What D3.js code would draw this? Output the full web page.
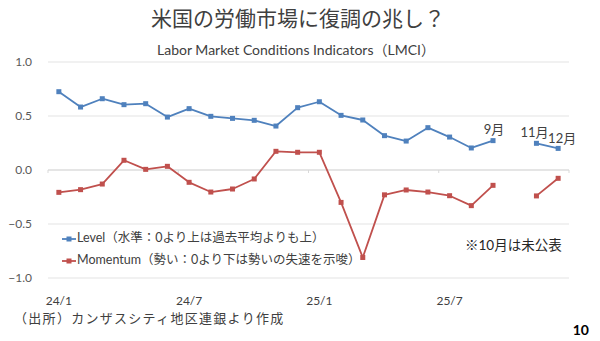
<!DOCTYPE html>
<html>
<head>
<meta charset="utf-8">
<script src="https://cdn.jsdelivr.net/npm/d3@7"></script>
<style>
  html, body { margin: 0; padding: 0; background: #ffffff; }
  svg { display: block; }
  text { font-family: "Lato", "Noto Sans CJK JP", sans-serif; }
</style>
</head>
<body>
<svg id="chart" width="600" height="341"></svg>
<script>
// Monthly categories, Jan 2024 – Dec 2025
const months = ["24/1","24/2","24/3","24/4","24/5","24/6","24/7","24/8","24/9","24/10","24/11","24/12",
                "25/1","25/2","25/3","25/4","25/5","25/6","25/7","25/8","25/9","25/10","25/11","25/12"];
const tickLabels = ["24/1","24/7","25/1","25/7"];
const yTicks = [1.0, 0.5, 0.0, -0.5, -1.0];

// LMCI series (October 2025 not published)
const level = [0.725,0.583,0.66,0.605,0.614,0.49,0.568,0.497,0.478,0.46,0.407,0.577,
               0.632,0.506,0.463,0.318,0.268,0.392,0.305,0.204,0.272,null,0.247,0.20];
const momentum = [-0.207,-0.182,-0.13,0.09,0.006,0.034,-0.114,-0.204,-0.176,-0.083,0.173,0.164,
                  0.164,-0.30,-0.81,-0.23,-0.185,-0.204,-0.238,-0.33,-0.142,null,-0.24,-0.077];

// Month labels attached to the latest Level points
const monthNotes = [
  { month: "25/9",  text: "9月",  dx: 1,  dy: -7 },
  { month: "25/11", text: "11月", dx: -2, dy: -6 },
  { month: "25/12", text: "12月", dx: 4,  dy: -5 }
];

const seriesList = [
  { name: "Level（水準：0より上は過去平均よりも上）", values: level, color: "#4f81bd" },
  { name: "Momentum（勢い：0より下は勢いの失速を示唆）", values: momentum, color: "#c0504d" }
];

const svg = d3.select("#chart");
const plot = { left: 48, right: 569, top: 62, bottom: 278 };

const x = d3.scaleBand().domain(months).range([plot.left, plot.right]).paddingInner(0).paddingOuter(0);
const xc = m => x(m) + x.bandwidth() / 2;
const y = d3.scaleLinear().domain([-1, 1]).range([plot.bottom, plot.top]);

// Titles
svg.append("text").attr("x", 298).attr("y", 26).attr("text-anchor", "middle")
  .attr("font-size", 21).attr("fill", "#404040").text("米国の労働市場に復調の兆し？");
svg.append("text").attr("x", 296).attr("y", 55).attr("text-anchor", "middle")
  .attr("font-size", 14).attr("fill", "#404040").text("Labor Market Conditions Indicators（LMCI）");

// Horizontal gridlines
svg.append("g").selectAll("line").data(yTicks).join("line")
  .attr("x1", plot.left).attr("x2", plot.right)
  .attr("y1", d => y(d)).attr("y2", d => y(d))
  .attr("stroke", "#e3e3e3").attr("stroke-width", 1);

// Y axis labels
const yAxis = d3.axisLeft(y).tickValues(yTicks).tickFormat(d3.format(".1f")).tickSize(0).tickPadding(16);
const yg = svg.append("g").attr("transform", `translate(${plot.left},0)`).call(yAxis);
yg.select(".domain").remove();
yg.selectAll("text").attr("font-size", 12).attr("fill", "#595959")
  .style("font-family", "Lato, 'Noto Sans CJK JP', sans-serif");

// Category axis on the zero line, ticks every six months at band edges
const zeroY = y(0);
svg.append("line").attr("x1", plot.left).attr("x2", plot.right)
  .attr("y1", zeroY).attr("y2", zeroY).attr("stroke", "#d9d9d9");
const edgeMonths = months.filter((m, i) => i % 6 === 0);
svg.append("g").selectAll("line").data(edgeMonths.concat(["end"])).join("line")
  .attr("x1", d => d === "end" ? plot.right : x(d))
  .attr("x2", d => d === "end" ? plot.right : x(d))
  .attr("y1", zeroY).attr("y2", zeroY + 3)
  .attr("stroke", "#d9d9d9");

// Category labels at the bottom
svg.append("g").selectAll("text").data(tickLabels).join("text")
  .attr("x", d => xc(d)).attr("y", 302).attr("text-anchor", "middle")
  .attr("dominant-baseline", "middle")
  .attr("font-size", 12).attr("fill", "#404040").text(d => d);

// Series lines and square markers
const line = d3.line()
  .defined(d => d.v !== null)
  .x(d => xc(d.m)).y(d => y(d.v));

seriesList.forEach(s => {
  const pts = months.map((m, i) => ({ m, v: s.values[i] }));
  svg.append("path").datum(pts).attr("d", line)
    .attr("fill", "none").attr("stroke", s.color).attr("stroke-width", 1.8)
    .attr("stroke-linejoin", "round");
  svg.append("g").selectAll("rect").data(pts.filter(d => d.v !== null)).join("rect")
    .attr("x", d => xc(d.m) - 2.5).attr("y", d => y(d.v) - 2.5)
    .attr("width", 5).attr("height", 5).attr("fill", s.color);
});

// Month notes above the latest Level points
svg.append("g").selectAll("text").data(monthNotes).join("text")
  .attr("x", d => xc(d.month) + d.dx)
  .attr("y", d => y(level[months.indexOf(d.month)]) + d.dy)
  .attr("text-anchor", "middle").attr("font-size", 13).attr("fill", "#404040")
  .text(d => d.text);

// Legend
const legend = svg.append("g").attr("transform", "translate(62,239)");
seriesList.forEach((s, i) => {
  const g = legend.append("g").attr("transform", `translate(0,${i * 22})`);
  g.append("line").attr("x1", 0).attr("x2", 14).attr("y1", 0).attr("y2", 0)
    .attr("stroke", s.color).attr("stroke-width", 1.8);
  g.append("rect").attr("x", 4.5).attr("y", -2.5).attr("width", 5).attr("height", 5).attr("fill", s.color);
  g.append("text").attr("x", 15).attr("y", 0).attr("dominant-baseline", "middle")
    .attr("font-size", 12.5).attr("fill", "#404040").text(s.name);
});

// Note about missing month
svg.append("text").attr("x", 465).attr("y", 247).attr("dominant-baseline", "middle")
  .attr("font-size", 13.5).attr("fill", "#262626").text("※10月は未公表");

// Source and page number
svg.append("text").attr("x", 14).attr("y", 320).attr("dominant-baseline", "middle")
  .attr("font-size", 13).attr("letter-spacing", 1.3).attr("fill", "#404040").text("（出所）カンザスシティ地区連銀より作成");
svg.append("text").attr("x", 589).attr("y", 331).attr("text-anchor", "end").attr("dominant-baseline", "middle")
  .attr("font-size", 14).attr("font-weight", "bold").attr("fill", "#000000").text("10");
</script>
</body>
</html>
